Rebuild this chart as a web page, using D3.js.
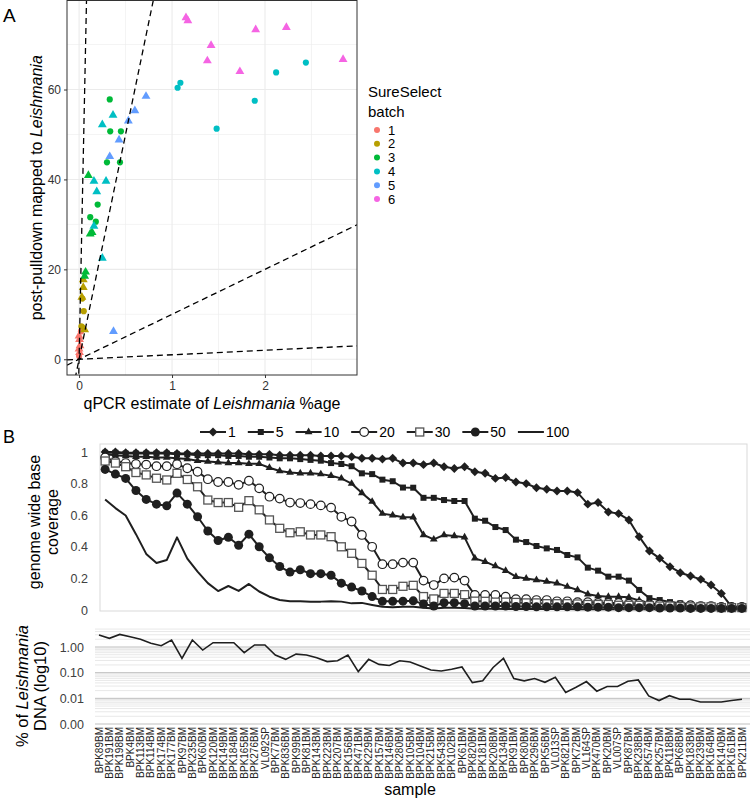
<!DOCTYPE html>
<html>
<head>
<meta charset="utf-8">
<script src="https://cdn.jsdelivr.net/npm/d3@7"></script>
<style>
body{margin:0;background:#fff;}
svg{font-family:"Liberation Sans",Arial,sans-serif;}
</style>
</head>
<body>
<div class="container"></div>
<script>
// panel A : qPCR vs pulldown
var qpcr     = [0.02,0.005,0.01,0.0,0.005,0.0,0.0,
                0.045,0.045,0.03,0.035,0.05,0.025,0.06,
                0.33,0.335,0.45,0.30,0.44,0.20,0.12,0.18,0.10,0.12,0.14,0.07,0.06,
                2.44,2.12,1.89,1.48,1.09,1.06,0.365,0.25,0.16,0.29,0.19,0.16,0.25,
                0.72,0.60,0.53,0.43,0.33,0.37,
                1.15,1.17,1.90,2.23,1.42,1.38,1.73,2.84];
var pulldown = [6.2,4.4,3.0,2.3,1.5,0.7,5.2,
                17.7,16.0,13.8,13.5,10.7,7.3,6.6,
                57.8,50.7,50.7,43.8,43.8,34.4,31.6,30.6,40.9,27.9,28.2,19.4,18.5,
                66,63.8,57.5,51.3,61.5,60.4,54.3,52.2,39.6,39.6,37.3,29.6,22.5,
                58.5,55.3,53,48.8,45.1,6.2,
                76.0,75.3,73.3,73.8,69.8,66.4,64,66.7];
var batch    = [1,1,1,1,1,1,1, 2,2,2,2,2,2,2, 3,3,3,3,3,3,3,3,3,3,3,3,3,
                4,4,4,4,4,4,4,4,4,4,4,4,4, 5,5,5,5,5,5, 6,6,6,6,6,6,6,6];
var shape    = ["c","t","t","t","t","c","t",
                "t","t","t","c","c","c","t",
                "c","c","c","c","c","c","c","c","t","t","t","t","t",
                "c","c","c","c","c","c","t","t","t","t","t","t","t",
                "t","t","t","t","t","t",
                "t","t","t","t","t","t","t","t"];
var batchLevels = [1,2,3,4,5,6];
var batchColors = ["#F8766D","#B79F00","#00BA38","#00BFC4","#619CFF","#F564E3"];
var slopes = [1,10,100,1000];
var xTicksA = [0,1,2];
var yTicksA = [0,20,40,60];

// panel B : coverage per sample
var samples = ["BPK89BM","BPK191BM","BPK198BM","BPK4BM","BPK113BM","BPK114BM","BPK174BM","BPK177BM","BPK97BM","BPK235BM",
  "BPK60BM","BPK120BM","BPK149BM","BPK184BM","BPK165BM","BPK276BM","VL092SP","BPK77BM","BPK836BM","BPK99BM",
  "BPK81BM","BPK143BM","BPK223BM","BPK207BM","BPK156BM","BPK471BM","BPK229BM","BPK157BM","BPK146BM","BPK280BM",
  "BPK105BM","BPK104BM","BPK215BM","BPK543BM","BPK102BM","BPK61BM","BPK820BM","BPK181BM","BPK208BM","BPK134BM",
  "BPK91BM","BPK80BM","BPK296BM","BPK56BM","VL013SP","BPK821BM","BPK72BM","VL164SP","BPK470BM","BPK20BM",
  "VL007SP","BPK87BM","BPK238BM","BPK574BM","BPK257BM","BPK118BM","BPK68BM","BPK183BM","BPK239BM","BPK164BM",
  "BPK140BM","BPK161BM","BPK211BM"];
var depthLevels = ["1","5","10","20","30","50","100"];
var cov1 = [1.0,1.0,0.995,0.995,0.995,0.995,0.995,0.99,0.99,0.99,
  0.99,0.99,0.99,0.99,0.985,0.985,0.985,0.98,0.98,0.98,
  0.98,0.975,0.975,0.975,0.97,0.96,0.96,
  0.955,0.96,0.93,0.93,0.92,0.93,0.907,0.896,0.907,0.875,
  0.865,0.833,0.838,0.81,0.80,0.774,0.764,0.753,0.753,0.743,
  0.67,0.68,0.62,0.61,0.57,0.464,0.373,0.327,0.274,0.236,
  0.215,0.194,0.158,0.105,0.02,0.015];
var cov5 = [0.995,0.995,0.99,0.99,0.99,0.99,0.99,0.985,0.985,0.98,
  0.98,0.98,0.975,0.975,0.97,0.97,0.965,0.96,0.96,0.955,
  0.95,0.945,0.93,0.924,0.91,0.865,0.86,
  0.825,0.815,0.775,0.774,0.71,0.71,0.696,0.69,0.69,0.578,
  0.565,0.525,0.506,0.445,0.43,0.405,0.39,0.38,0.348,0.333,
  0.268,0.249,0.211,0.211,0.186,0.127,0.075,0.063,0.05,0.042,
  0.036,0.032,0.028,0.025,0.015,0.01];
var cov10 = [0.985,0.98,0.975,0.97,0.97,0.965,0.965,0.96,0.955,0.945,
  0.94,0.935,0.93,0.93,0.925,0.925,0.9,0.88,0.87,0.865,
  0.865,0.86,0.85,0.833,0.80,0.74,0.686,
  0.61,0.60,0.587,0.587,0.475,0.447,0.475,0.468,0.46,0.327,
  0.306,0.278,0.249,0.211,0.2,0.19,0.18,0.17,0.148,0.127,
  0.10,0.089,0.084,0.084,0.08,0.06,0.045,0.035,0.03,0.025,
  0.02,0.02,0.015,0.015,0.01,0.01];
var cov20 = [0.965,0.94,0.93,0.924,0.92,0.91,0.91,0.922,0.897,0.875,
  0.828,0.81,0.81,0.792,0.818,0.77,0.717,0.705,0.68,0.677,
  0.67,0.662,0.648,0.59,0.56,0.475,0.40,
  0.29,0.29,0.30,0.30,0.186,0.158,0.20,0.205,0.186,0.095,
  0.095,0.095,0.084,0.068,0.068,0.063,0.063,0.055,0.055,0.05,
  0.05,0.045,0.045,0.045,0.04,0.04,0.035,0.035,0.03,0.03,
  0.03,0.025,0.025,0.02,0.02,0.02];
var cov30 = [0.943,0.93,0.907,0.87,0.855,0.834,0.823,0.865,0.826,0.78,
  0.696,0.68,0.68,0.65,0.692,0.634,0.57,0.517,0.489,0.495,
  0.475,0.475,0.464,0.40,0.359,0.295,0.22,
  0.13,0.13,0.15,0.156,0.085,0.07,0.105,0.105,0.097,0.056,
  0.055,0.05,0.05,0.048,0.045,0.045,0.04,0.04,0.04,0.038,
  0.035,0.035,0.035,0.03,0.03,0.03,0.028,0.025,0.025,0.022,
  0.02,0.02,0.02,0.015,0.015,0.015];
var cov50 = [0.89,0.86,0.833,0.756,0.70,0.67,0.66,0.74,0.67,0.59,
  0.50,0.44,0.46,0.41,0.48,0.40,0.33,0.275,0.24,0.255,
  0.23,0.23,0.22,0.17,0.145,0.12,0.085,
  0.055,0.055,0.056,0.058,0.038,0.025,0.046,0.046,0.04,0.025,
  0.025,0.025,0.025,0.022,0.022,0.02,0.02,0.02,0.02,0.02,
  0.018,0.018,0.018,0.015,0.015,0.015,0.015,0.012,0.012,0.012,
  0.01,0.01,0.01,0.01,0.01,0.01];
var cov100 = [0.70,0.645,0.598,0.48,0.355,0.298,0.316,0.46,0.325,0.243,
  0.17,0.12,0.152,0.121,0.165,0.117,0.084,0.063,0.056,0.056,
  0.052,0.053,0.056,0.053,0.042,0.045,0.032,
  0.02,0.018,0.02,0.02,0.015,0.01,0.015,0.015,0.012,0.008,
  0.008,0.008,0.007,0.007,0.007,0.006,0.006,0.006,0.006,0.005,
  0.005,0.005,0.005,0.005,0.005,0.005,0.004,0.004,0.004,0.004,
  0.004,0.004,0.003,0.003,0.003,0.003];
var leishPct = [2.93,2.17,3.1,2.5,1.99,1.39,1.12,1.87,0.36,1.87,
  0.76,1.47,1.47,1.47,0.60,1.2,1.2,0.49,0.33,0.53,
  0.49,0.38,0.27,0.29,0.49,0.11,0.33,
  0.21,0.19,0.29,0.26,0.18,0.127,0.116,0.135,0.167,0.041,
  0.048,0.16,0.36,0.059,0.048,0.059,0.042,0.066,0.017,0.027,
  0.045,0.019,0.029,0.029,0.046,0.052,0.0124,0.0082,0.0127,0.0092,
  0.0092,0.0072,0.0072,0.0072,0.0082,0.0092];
var covTicks = [0,0.2,0.4,0.6,0.8,1];
var pctTicks = [0.001,0.01,0.1,1];

var coverage = [cov1,cov5,cov10,cov20,cov30,cov50,cov100];
var markerKind = ["diamond","square","triangle","ocircle","osquare","circle","none"];
var ink = "#1f1f1f";

var svg = d3.select(".container").append("svg")
  .attr("width",750).attr("height",800);

function drawMarker(g, kind, x, y){
  if(kind=="none") return;
  if(kind=="diamond"){
    g.append("path").attr("d",d3.symbol(d3.symbolSquare,40)())
      .attr("transform","translate("+x+","+y+") rotate(45)").attr("fill",ink);
  } else if(kind=="square"){
    g.append("path").attr("d",d3.symbol(d3.symbolSquare,36)())
      .attr("transform","translate("+x+","+y+")").attr("fill",ink);
  } else if(kind=="triangle"){
    g.append("path").attr("d",d3.symbol(d3.symbolTriangle,26)())
      .attr("transform","translate("+x+","+y+")").attr("fill",ink);
  } else if(kind=="ocircle"){
    g.append("circle").attr("cx",x).attr("cy",y).attr("r",4.3)
      .attr("fill","#fff").attr("stroke",ink).attr("stroke-width",1.2);
  } else if(kind=="osquare"){
    g.append("rect").attr("x",x-4).attr("y",y-4).attr("width",8).attr("height",8)
      .attr("fill","#fff").attr("stroke","#555").attr("stroke-width",1.3);
  } else if(kind=="circle"){
    g.append("circle").attr("cx",x).attr("cy",y).attr("r",4.5).attr("fill",ink);
  }
}

function drawPanelA(){
  var L=67, R=357, T=0.5, B=375;
  var x = d3.scaleLinear().domain([-0.13,2.99]).range([L,R]);
  var y = d3.scaleLinear().domain([-3.5,79.8]).range([B,T]);
  var g = svg.append("g");

  // grid
  [0.5,1.5,2.5].forEach(function(v){
    g.append("line").attr("x1",x(v)).attr("x2",x(v)).attr("y1",T).attr("y2",B)
      .attr("stroke","#EBEBEB").attr("stroke-width",0.6);
  });
  [10,30,50,70].forEach(function(v){
    g.append("line").attr("x1",L).attr("x2",R).attr("y1",y(v)).attr("y2",y(v))
      .attr("stroke","#EBEBEB").attr("stroke-width",0.6);
  });
  xTicksA.forEach(function(v){
    g.append("line").attr("x1",x(v)).attr("x2",x(v)).attr("y1",T).attr("y2",B)
      .attr("stroke","#EBEBEB").attr("stroke-width",1.1);
  });
  yTicksA.forEach(function(v){
    g.append("line").attr("x1",L).attr("x2",R).attr("y1",y(v)).attr("y2",y(v))
      .attr("stroke","#EBEBEB").attr("stroke-width",1.1);
  });

  // points
  var colour = d3.scaleOrdinal().domain(batchLevels).range(batchColors);
  var pts = qpcr.map(function(q,i){ return {x:q, y:pulldown[i], b:batch[i], s:shape[i]}; });
  g.selectAll("path.pt").data(pts).enter().append("path")
    .attr("class","pt")
    .attr("d",function(d){ return d.s=="t" ? d3.symbol(d3.symbolTriangle,34)() : d3.symbol(d3.symbolCircle,30)(); })
    .attr("transform",function(d){ return "translate("+x(d.x)+","+y(d.y)+")"; })
    .attr("fill",function(d){ return colour(d.b); });

  // reference lines y = k*x
  var clip = svg.append("clipPath").attr("id","clipA").append("rect")
    .attr("x",L).attr("y",T).attr("width",R-L).attr("height",B-T);
  slopes.forEach(function(k){
    g.append("line").attr("clip-path","url(#clipA)")
      .attr("x1",x(-0.13)).attr("y1",y(-0.13*k))
      .attr("x2",x(2.99)).attr("y2",y(2.99*k))
      .attr("stroke","#000").attr("stroke-width",1.3).attr("stroke-dasharray","6,4");
  });

  g.append("rect").attr("x",L).attr("y",T).attr("width",R-L).attr("height",B-T)
    .attr("fill","none").attr("stroke","#333").attr("stroke-width",1);

  // axes
  var ax = g.append("g").attr("transform","translate(0,"+B+")")
    .call(d3.axisBottom(x).tickValues(xTicksA).tickSize(3).tickPadding(3).tickFormat(d3.format("d")));
  var ay = g.append("g").attr("transform","translate("+L+",0)")
    .call(d3.axisLeft(y).tickValues(yTicksA).tickSize(3).tickPadding(3));
  [ax,ay].forEach(function(a){
    a.select(".domain").remove();
    a.selectAll("line").attr("stroke","#333");
    a.selectAll("text").attr("font-size",12).attr("fill","#333").attr("font-family","Liberation Sans, Arial");
  });

  var xt = g.append("text").attr("x",(L+R)/2).attr("y",409).attr("text-anchor","middle")
    .attr("font-size",16);
  xt.append("tspan").text("qPCR estimate of ");
  xt.append("tspan").attr("font-style","italic").text("Leishmania");
  xt.append("tspan").text(" %age");

  var yt = g.append("text").attr("transform","translate(42,"+((T+B)/2)+") rotate(-90)")
    .attr("text-anchor","middle").attr("font-size",16);
  yt.append("tspan").text("post-pulldown mapped to ");
  yt.append("tspan").attr("font-style","italic").text("Leishmania");

  // legend
  var lg = svg.append("g").attr("transform","translate(368,0)");
  lg.append("text").attr("x",0).attr("y",97).attr("font-size",15).text("SureSelect");
  lg.append("text").attr("x",0).attr("y",117).attr("font-size",15).text("batch");
  batchLevels.forEach(function(b,i){
    lg.append("circle").attr("cx",9).attr("cy",130+i*13.8).attr("r",3).attr("fill",colour(b));
    lg.append("text").attr("x",20).attr("y",134.5+i*13.8).attr("font-size",13).text(b);
  });

  svg.append("text").attr("x",3).attr("y",22).attr("font-size",19).text("A");
}

function drawPanelB(){
  var L=100, R=747, T=444, B=611;
  var x = d3.scalePoint().domain(samples).range([L,R]).padding(0.5);
  var y = d3.scaleLinear().domain([0,1]).range([610,452]);
  var g = svg.append("g");

  g.append("rect").attr("x",L).attr("y",T).attr("width",R-L).attr("height",B-T)
    .attr("fill","#fff").attr("stroke","#d9d9d9").attr("stroke-width",1);

  var line = d3.line().x(function(d,i){ return x(samples[i]); }).y(function(d){ return y(d); });
  coverage.forEach(function(series,s){
    g.append("path").datum(series).attr("d",line)
      .attr("fill","none").attr("stroke",ink).attr("stroke-width",2)
      .attr("stroke-linejoin","round");
  });
  coverage.forEach(function(series,s){
    var mg = g.append("g");
    series.forEach(function(v,i){ drawMarker(mg, markerKind[s], x(samples[i]), y(v)); });
  });

  var ay = g.append("g").attr("transform","translate(88,0)")
    .call(d3.axisLeft(y).tickValues(covTicks).tickSize(0).tickPadding(0).tickFormat(d3.format("")));
  ay.select(".domain").remove();
  ay.selectAll("text").attr("font-size",12.5).attr("fill","#404040").attr("font-family","Liberation Sans, Arial");

  var yt = g.append("text").attr("transform","translate(0,522) rotate(-90)")
    .attr("text-anchor","middle").attr("font-size",16);
  yt.append("tspan").attr("x",0).attr("y",40).text("genome wide base");
  yt.append("tspan").attr("x",0).attr("y",58).text("coverage");

  // legend
  var lx = 200;
  depthLevels.forEach(function(lab,s){
    var it = g.append("g");
    it.append("line").attr("x1",lx).attr("x2",lx+26).attr("y1",432).attr("y2",432)
      .attr("stroke",ink).attr("stroke-width",2);
    drawMarker(it, markerKind[s], lx+13, 432);
    var t = it.append("text").attr("x",lx+28).attr("y",437).attr("font-size",14).text(lab);
    lx = lx + 28 + t.node().getComputedTextLength() + 12;
  });

  svg.append("text").attr("x",3).attr("y",443).attr("font-size",18).text("B");
}

function drawPanelC(){
  var x = d3.scalePoint().domain(samples).range([99,742]);
  var y = d3.scaleLog().domain([0.001,5.5]).range([724,628]);
  var g = svg.append("g");

  var grid = [];
  [-3,-2,-1,0].forEach(function(e){
    for(var m=1;m<=9;m++){
      var v = m*Math.pow(10,e);
      if(v<=5.5) grid.push({v:v, major:m==1});
    }
  });
  g.selectAll("line.grid").data(grid).enter().append("line")
    .attr("x1",95).attr("x2",750)
    .attr("y1",function(d){ return y(d.v); }).attr("y2",function(d){ return y(d.v); })
    .attr("stroke",function(d){ return d.major ? "#bfbfbf" : "#e8e8e8"; })
    .attr("stroke-width",1);

  g.append("path").datum(leishPct)
    .attr("d",d3.line().x(function(d,i){ return x(samples[i]); }).y(function(d){ return y(d); }))
    .attr("fill","none").attr("stroke",ink).attr("stroke-width",1.6);

  var ay = g.append("g").attr("transform","translate(84,0)")
    .call(d3.axisLeft(y).tickValues(pctTicks).tickSize(0).tickPadding(0).tickFormat(d3.format(".2f")));
  ay.select(".domain").remove();
  ay.selectAll("text").attr("font-size",12.5).attr("fill","#404040").attr("font-family","Liberation Sans, Arial");

  g.selectAll("text.samp").data(samples).enter().append("text")
    .attr("class","samp")
    .attr("transform",function(d){ return "translate("+(x(d)+3.6)+",727) rotate(-90)"; })
    .attr("text-anchor","end").attr("font-size",10).attr("fill","#222").text(function(d){ return d; });

  var yt = g.append("text").attr("transform","translate(0,686) rotate(-90)")
    .attr("text-anchor","middle").attr("font-size",16.5);
  var t1 = yt.append("tspan").attr("x",0).attr("y",28);
  t1.append("tspan").text("% of ");
  t1.append("tspan").attr("font-style","italic").text("Leishmania");
  yt.append("tspan").attr("x",0).attr("y",46).text("DNA (log10)");

  g.append("text").attr("x",410).attr("y",795).attr("text-anchor","middle").attr("font-size",16).text("sample");
}

drawPanelA();
drawPanelB();
drawPanelC();
</script>
</body>
</html>
